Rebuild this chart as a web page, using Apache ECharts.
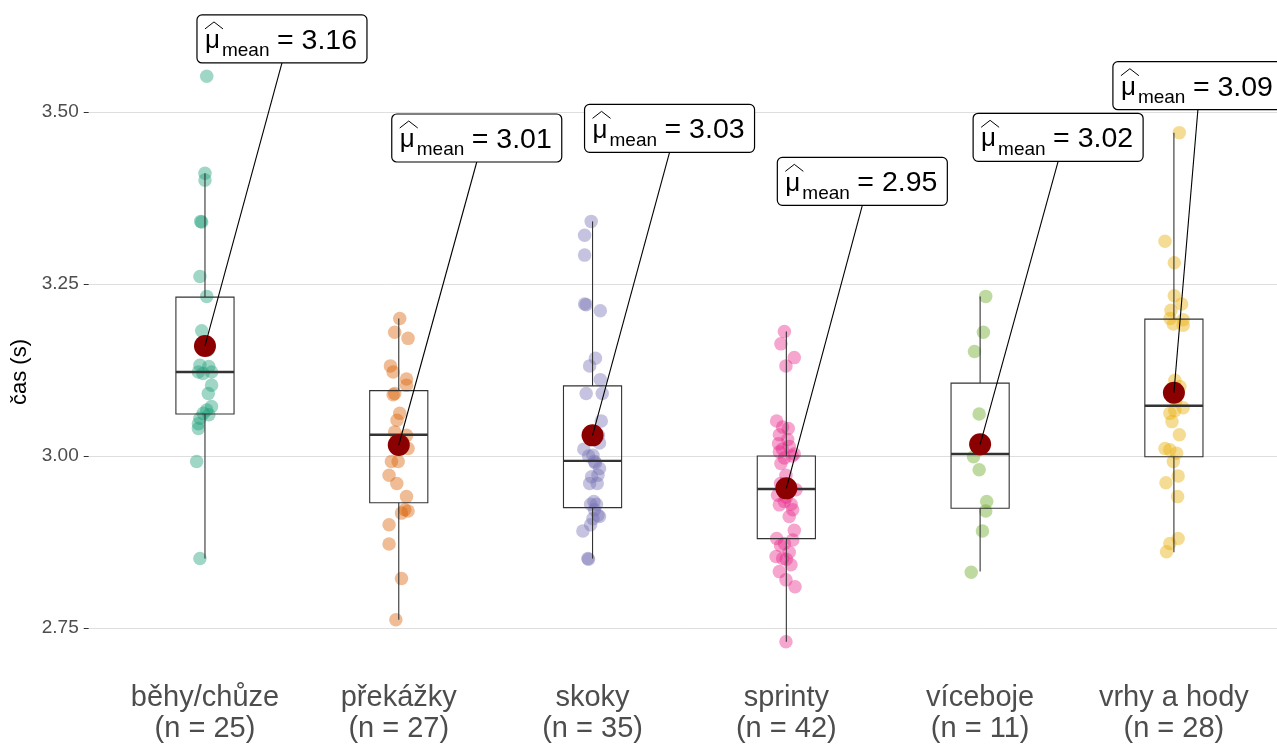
<!DOCTYPE html>
<html>
<head>
<meta charset="utf-8">
<script src="https://cdn.jsdelivr.net/npm/echarts@6/dist/echarts.min.js"></script>
<style>
html,body{margin:0;padding:0;background:#fff;}
#chart{width:1277px;height:744px;}
</style>
</head>
<body>
<div id="chart"></div>
<script>
// ---------- data ----------
const categories = ['běhy/chůze', 'překážky', 'skoky', 'sprinty', 'víceboje', 'vrhy a hody'];
const counts = [25, 27, 35, 42, 11, 28];
const meanValues = [3.160, 3.016, 3.030, 2.953, 3.017, 3.092];
const meanLabels = ['3.16', '3.01', '3.03', '2.95', '3.02', '3.09'];
const yTicks = [2.75, 3.00, 3.25, 3.50];
const yTitle = 'čas (s)';
// box statistics: [lower whisker, Q1, median, Q3, upper whisker]
const boxStats = [
  [2.851, 3.061, 3.122, 3.231, 3.411],
  [2.762, 2.932, 3.031, 3.095, 3.200],
  [2.851, 2.925, 2.993, 3.102, 3.341],
  [2.730, 2.880, 2.952, 3.000, 3.181],
  [2.832, 2.924, 3.003, 3.106, 3.232],
  [2.860, 2.999, 3.073, 3.199, 3.470]
];
// observations: [horizontal jitter (category units), time]
const behyChuze = [
  [0.009, 3.552], [0, 3.411], [0, 3.401], [-0.022, 3.341], [-0.017, 3.340], [-0.026, 3.261],
  [0.009, 3.232], [-0.017, 3.182], [0.017, 3.154], [-0.026, 3.132], [-0.034, 3.122], [0.034, 3.122],
  [0.034, 3.103], [0.017, 3.091], [0.034, 3.072], [0.009, 3.067], [-0.009, 3.062], [-0.026, 3.055],
  [-0.034, 3.047], [-0.034, 3.040], [-0.043, 2.992], [-0.026, 2.851], [0.02, 3.13], [-0.01, 3.12],
  [0.02, 3.06]
];
const prekazky = [
  [0.005, 3.200], [-0.021, 3.180], [0.048, 3.171], [-0.043, 3.131], [-0.029, 3.122], [0.040, 3.112],
  [0.040, 3.103], [-0.021, 3.091], [-0.029, 3.089], [0.005, 3.062], [-0.009, 3.052], [-0.021, 3.035],
  [0.040, 3.030], [0.048, 3.011], [-0.003, 2.992], [-0.038, 2.992], [-0.050, 2.972], [0.040, 2.941],
  [0.031, 2.922], [0.014, 2.917], [0.048, 2.920], [-0.050, 2.900], [-0.050, 2.872], [0.014, 2.822],
  [-0.015, 2.762], [0.02, 3.02], [-0.01, 2.96]
];
const skoky = [
  [-0.007, 3.341], [-0.041, 3.321], [-0.041, 3.292], [-0.041, 3.221], [-0.033, 3.220], [0.040, 3.211],
  [0.015, 3.142], [-0.015, 3.131], [0.040, 3.111], [-0.033, 3.091], [0.050, 3.091], [0.045, 3.051],
  [0.036, 3.019], [-0.045, 3.010], [0.002, 3.001], [0.010, 2.992], [0.036, 2.982], [0.028, 2.972],
  [-0.015, 2.960], [0.024, 2.960], [0.007, 2.934], [0.010, 2.922], [0.028, 2.914], [0.002, 2.909],
  [0.036, 2.912], [-0.010, 2.900], [-0.050, 2.891], [-0.024, 2.851], [-0.021, 2.850], [0.03, 3.03],
  [-0.02, 3.00], [0.015, 2.99], [-0.005, 2.97], [0.02, 2.93], [-0.01, 2.93]
];
const sprinty = [
  [-0.010, 3.181], [-0.028, 3.163], [0.041, 3.143], [-0.002, 3.131], [-0.050, 3.051], [-0.019, 3.042],
  [-0.036, 3.031], [0.007, 3.024], [-0.040, 3.018], [0.015, 3.014], [-0.036, 3.006], [0.041, 3.003],
  [-0.010, 2.997], [-0.028, 2.989], [-0.002, 2.972], [0.050, 2.951], [-0.045, 2.943], [-0.010, 2.934],
  [-0.036, 2.929], [0.033, 2.922], [0.015, 2.912], [0.041, 2.892], [-0.050, 2.880], [-0.010, 2.873],
  [0.033, 2.878], [-0.053, 2.854], [-0.019, 2.851], [0.024, 2.842], [-0.036, 2.832], [-0.002, 2.820],
  [0.045, 2.810], [-0.002, 2.730], [0.01, 3.04], [-0.02, 3.01], [0.03, 3.00], [-0.03, 2.96],
  [0.02, 2.95], [0, 2.94], [0.025, 2.93], [-0.03, 2.87], [0.015, 2.86], [0, 2.85]
];
const viceboje = [
  [0.029, 3.232], [0.017, 3.180], [-0.029, 3.152], [-0.005, 3.061], [-0.034, 2.999], [-0.005, 2.980],
  [0.034, 2.934], [0.029, 2.920], [0.012, 2.891], [-0.046, 2.831], [0, 3.01]
];
const vrhyHody = [
  [0.028, 3.470], [-0.046, 3.312], [0.002, 3.281], [0.002, 3.233], [0.040, 3.221], [-0.015, 3.212],
  [0.048, 3.198], [-0.003, 3.192], [0.048, 3.190], [0.005, 3.110], [0.031, 3.101], [0.048, 3.070],
  [-0.021, 3.062], [0.005, 3.066], [0.028, 3.031], [-0.046, 3.011], [-0.021, 3.009], [0.014, 3.004],
  [-0.003, 2.992], [0.022, 2.971], [-0.041, 2.961], [0.019, 2.941], [0.022, 2.880], [-0.021, 2.873],
  [-0.038, 2.861], [-0.02, 3.20], [0.01, 3.08], [-0.01, 3.05]
];
const observations = [behyChuze, prekazky, skoky, sprinty, viceboje, vrhyHody];

// ---------- styling / layout ----------
const colors = ['#1B9E77', '#D95F02', '#7570B3', '#E7298A', '#66A61E', '#E6AB02'];
const LABEL = { dx: [-8, -7, -8, -9, -7, -61], dy: -283, w: 170, h: 48 };
const FONT = 'Liberation Sans, Arial, sans-serif';

const chart = echarts.init(document.getElementById('chart'), null, { renderer: 'canvas' });

const series = [];
observations.forEach((obs, i) => {
  series.push({
    type: 'scatter',
    name: categories[i],
    z: 2,
    symbolSize: 13.5,
    itemStyle: { color: colors[i], opacity: 0.42 },
    data: obs.map(o => [i + 1 + o[0], o[1]]),
    silent: true
  });
});

series.push({
  type: 'custom',
  z: 3,
  silent: true,
  data: boxStats.map((b, i) => [i + 1].concat(b)),
  renderItem: function (params, api) {
    const x = api.value(0);
    const half = api.size([0.3, 0])[0] / 2;
    const pMin = api.coord([x, api.value(1)]);
    const pQ1 = api.coord([x, api.value(2)]);
    const pMed = api.coord([x, api.value(3)]);
    const pQ3 = api.coord([x, api.value(4)]);
    const pMax = api.coord([x, api.value(5)]);
    const stroke = '#333333';
    return {
      type: 'group',
      children: [
        { type: 'line', shape: { x1: pMin[0], y1: pMin[1], x2: pQ1[0], y2: pQ1[1] }, style: { stroke: stroke, lineWidth: 1.1 } },
        { type: 'line', shape: { x1: pQ3[0], y1: pQ3[1], x2: pMax[0], y2: pMax[1] }, style: { stroke: stroke, lineWidth: 1.1 } },
        { type: 'rect', shape: { x: pQ3[0] - half, y: pQ3[1], width: half * 2, height: pQ1[1] - pQ3[1] }, style: { stroke: stroke, fill: 'none', lineWidth: 1.1 } },
        { type: 'line', shape: { x1: pMed[0] - half, y1: pMed[1], x2: pMed[0] + half, y2: pMed[1] }, style: { stroke: stroke, lineWidth: 2.4 } }
      ]
    };
  }
});

series.push({
  type: 'scatter',
  z: 4,
  symbolSize: 22,
  itemStyle: { color: '#8B0000', opacity: 1 },
  data: meanValues.map((m, i) => [i + 1, m]),
  silent: true
});

series.push({
  type: 'custom',
  z: 5,
  silent: true,
  clip: false,
  data: meanValues.map((m, i) => [i + 1, m, i]),
  renderItem: function (params, api) {
    const i = api.value(2);
    const p = api.coord([api.value(0), api.value(1)]);
    const bx = p[0] + LABEL.dx[i];
    const by = p[1] + LABEL.dy - LABEL.h;
    return {
      type: 'group',
      children: [
        { type: 'line', shape: { x1: p[0], y1: p[1], x2: bx + LABEL.w / 2, y2: by + LABEL.h }, style: { stroke: '#000', lineWidth: 1.1 } },
        { type: 'rect', shape: { x: bx, y: by, width: LABEL.w, height: LABEL.h, r: 5 }, style: { fill: '#fff', stroke: '#000', lineWidth: 1.2 } },
        { type: 'polyline', shape: { points: [[bx + 8, by + 14], [bx + 17, by + 7], [bx + 26, by + 14]] }, style: { stroke: '#000', lineWidth: 1, fill: 'none' } },
        { type: 'text', style: { text: 'μ', x: bx + 8, y: by + 26, font: '26px ' + FONT, fill: '#000', align: 'left', verticalAlign: 'middle', textAlign: 'left', textVerticalAlign: 'middle' } },
        { type: 'text', style: { text: 'mean', x: bx + 25, y: by + 36, font: '19px ' + FONT, fill: '#000', align: 'left', verticalAlign: 'middle', textAlign: 'left', textVerticalAlign: 'middle' } },
        { type: 'text', style: { text: '= ' + meanLabels[i], x: bx + 80, y: by + 26, font: '28.5px ' + FONT, fill: '#000', align: 'left', verticalAlign: 'middle', textAlign: 'left', textVerticalAlign: 'middle' } }
      ]
    };
  }
});

chart.setOption({
  animation: false,
  backgroundColor: '#ffffff',
  grid: { left: 88.7, right: 0, top: 48, bottom: 74, containLabel: false },
  graphic: [{
    type: 'text',
    left: 9,
    top: 'middle',
    rotation: Math.PI / 2,
    style: { text: yTitle, font: '22px ' + FONT, fill: '#000' },
    z: 10
  }],
  xAxis: {
    type: 'value',
    min: 0.4,
    max: 6.532,
    axisLine: { show: false },
    axisTick: { show: false },
    splitLine: { show: false },
    axisLabel: {
      customValues: [1, 2, 3, 4, 5, 6],
      formatter: function (v) { const i = Math.round(v) - 1; return categories[i] + '\n(n = ' + counts[i] + ')'; },
      color: '#4D4D4D',
      fontFamily: FONT,
      fontSize: 29,
      lineHeight: 31,
      margin: 12
    }
  },
  yAxis: {
    type: 'value',
    min: 2.689,
    max: 3.593,
    axisLine: { show: false },
    axisTick: { show: true, customValues: yTicks, length: 5, lineStyle: { color: '#333333', width: 1 } },
    axisLabel: {
      customValues: yTicks,
      formatter: function (v) { return v.toFixed(2); },
      color: '#4D4D4D',
      fontFamily: FONT,
      fontSize: 19,
      margin: 10
    },
    splitLine: { show: true, lineStyle: { color: '#DEDEDE', width: 1 } }
  },
  series: series
});
</script>
</body>
</html>
